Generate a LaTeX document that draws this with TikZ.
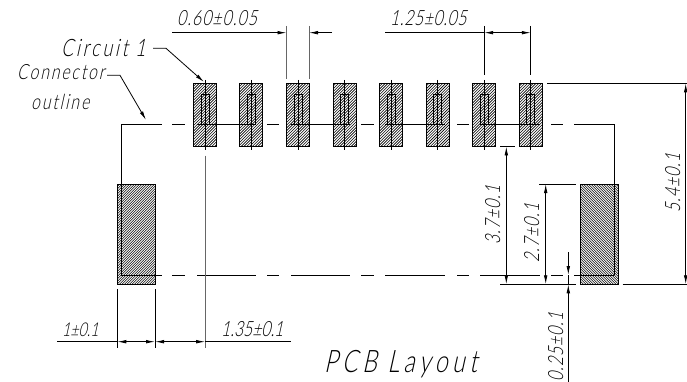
\documentclass[tikz,border=0pt]{standalone}
\usepackage{fontspec}
\usetikzlibrary{arrows.meta}
\newfontfamily\isofont[FakeSlant=0.22,FakeStretch=0.75,LetterSpace=5]{Lato Light}
\newcommand{\hatchbox}[6]{% x1 y1 x2 y2 dir spacing
  \begin{scope}
    \clip (#1,#2) rectangle (#3,#4);
    \pgfmathsetmacro{\hh}{(#4)-(#2)}
    \pgfmathsetmacro{\ww}{(#3)-(#1)}
    \pgfmathsetmacro{\tot}{\hh+\ww}
    \foreach \d in {0,#6,...,\tot}{
      \ifnum#5=1
        \draw[hatchline] (#1+\d,#2) -- (#1+\d-\hh,#4);
      \else
        \draw[hatchline] (#3-\d,#2) -- (#3-\d+\hh,#4);
      \fi
    }
  \end{scope}
  \draw[padedge] (#1,#2) rectangle (#3,#4);
}
\begin{document}
\begin{tikzpicture}[x=1pt,y=-1pt,
  hatchline/.style={black,line width=0.6pt},
  padedge/.style={black,line width=1pt},
  thinline/.style={black,line width=0.8pt},
  greyline/.style={black!60,line width=1pt},
  dimtip/.style={-{Latex[length=9pt,width=3.6pt]},black,line width=0.8pt},
  bothtip/.style={{Latex[length=9pt,width=3.6pt]}-{Latex[length=9pt,width=3.6pt]},black,line width=0.8pt},
  label/.style={font=\isofont\fontsize{21}{21}\selectfont,inner sep=0pt,text=black},
]
\useasboundingbox (0,0) rectangle (687,382);
\fill[white] (0,0) rectangle (687,382);

% small pads
\foreach \cx in {205.2,251.4,298,344.6,391.2,437.7,484.2,530.8}{
  \hatchbox{\cx-11.5}{83.3}{\cx+11.5}{147}{1}{2.8}
  \draw[thinline] (\cx-4,94.5) rectangle (\cx+4,124.7);
  \draw[thinline] (\cx,80) -- (\cx,150);
}
% side pads
\hatchbox{117.3}{184}{155}{284.3}{1}{2.5}
\hatchbox{580.3}{184}{618.3}{284.3}{2}{2.5}

% connector outline
\draw[thinline] (121,184) -- (121,124.7) -- (162,124.7);
\draw[thinline] (614.3,275) -- (614.3,124.7) -- (574,124.7);
\draw[thinline] (121,184) -- (121,275) -- (162,275);
\foreach \a/\b in {172/185,197/256,267/279,291/350,361/374,385/445,457/469,480/540,551/563}{
  \draw[thinline] (\a,124.7) -- (\b,124.7);
  \draw[thinline] (\a,275) -- (\b,275);
}
\draw[thinline] (574,275) -- (614.3,275);

% top dimensions
\draw[greyline] (286.5,26) -- (286.5,79);
\draw[greyline] (309,26) -- (309,79);
\coordinate (ta) at (172,32.7); \coordinate (tb) at (286.5,32.7);
\coordinate (tc) at (332,32.7); \coordinate (td) at (309,32.7);
\draw[dimtip] (ta) -- (tb);
\draw[dimtip] (tc) -- (td);
\node[label,anchor=base west] (n060) at (177,26) {0.60±0.05};

\draw[thinline] (484.2,26) -- (484.2,75);
\draw[thinline] (530.8,26) -- (530.8,75);
\coordinate (te) at (385,32.7); \coordinate (tf) at (484.2,32.7); \coordinate (tg) at (530.8,32.7);
\draw[thinline] (te) -- (tf);
\draw[bothtip] (tf) -- (tg);
\node[label,anchor=base west] (n125) at (390,26) {\addfontfeature{LetterSpace=3}1.25±0.05};

% leaders
\node[label,anchor=base west,font=\isofont\fontsize{24}{24}\selectfont] (ncirc) at (61,57) {\addfontfeature{LetterSpace=11}Circuit 1};
\coordinate (ca) at (153,48.3); \coordinate (cb) at (166,48.3); \coordinate (cc) at (204,82);
\draw[dimtip] (ca) -- (cb) -- (cc);
\node[label,anchor=base west] (nconn) at (17,80) {\addfontfeature{LetterSpace=9}Connector};
\node[label,anchor=base west] (nout) at (31,110) {\addfontfeature{LetterSpace=9}outline};
\coordinate (oa) at (107,75.3); \coordinate (ob) at (120,75.3); \coordinate (oc) at (146,120);
\draw[dimtip] (oa) -- (ob) -- (oc);

% centre line of circuit 1
\draw[greyline] (205.2,155.7) -- (205.2,348);

% 5.4
\draw[thinline] (547,83.3) -- (687,83.3);
\draw[thinline] (622.7,284.3) -- (687,284.3);
\coordinate (ra) at (685.7,83.3); \coordinate (rb) at (685.7,284.3);
\draw[bothtip] (ra) -- (rb);
\node[label,rotate=90,anchor=base west] (n54) at (680,213) {5.4±0.1};

% 3.7
\draw[thinline] (500,146.5) -- (514.7,146.5);
\draw[thinline] (500,284.3) -- (576,284.3);
\coordinate (sa) at (506.3,146.5); \coordinate (sb) at (506.3,284.3);
\draw[bothtip] (sa) -- (sb);
\node[label,rotate=90,anchor=base west] (n37) at (500,245) {3.7±0.1};

% 2.7
\draw[thinline] (539,184) -- (576,184);
\coordinate (ua) at (545.7,184); \coordinate (ub) at (545.7,284.3);
\draw[bothtip] (ua) -- (ub);
\node[label,rotate=90,anchor=base west] (n27) at (539,263) {2.7±0.1};

% 0.25
\coordinate (va) at (568.3,252.3); \coordinate (vb) at (568.3,275);
\coordinate (vc) at (568.3,382); \coordinate (vd) at (568.3,284.3);
\draw[dimtip] (va) -- (vb);
\draw[dimtip] (vc) -- (vd);
\draw[thinline] (vb) -- (vd);
\node[label,rotate=90,anchor=base west] (n025) at (563,382) {0.25±0.1};

% bottom dimensions
\draw[thinline] (117.3,289) -- (117.3,348);
\draw[thinline] (155,289) -- (155,348);
\coordinate (ba) at (57,341.7); \coordinate (bb) at (117.3,341.7);
\coordinate (bc) at (155,341.7); \coordinate (bd) at (205.2,341.7); \coordinate (be) at (291,341.7);
\draw[thinline] (ba) -- (bb);
\draw[bothtip] (bb) -- (bc);
\draw[bothtip] (bc) -- (bd);
\draw[thinline] (bd) -- (be);
\node[label,anchor=base west,font=\isofont\fontsize{19}{19}\selectfont] (n1) at (62,336) {\addfontfeature{LetterSpace=0}1±0.1};
\node[label,anchor=base west] (n135) at (221,336) {\addfontfeature{LetterSpace=0}1.35±0.1};

% title
\node[label,anchor=base west,font=\isofont\fontsize{31}{31}\selectfont] (ntitle) at (324,372) {\addfontfeature{LetterSpace=14}PCB Layout};
\end{tikzpicture}
\end{document}
